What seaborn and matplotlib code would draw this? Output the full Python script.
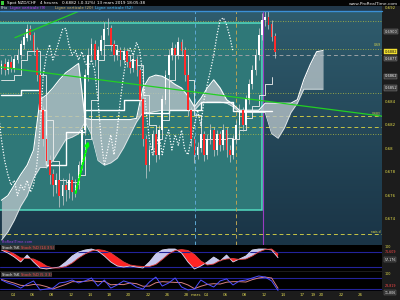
import numpy as np
import pandas as pd
import matplotlib
matplotlib.use("Agg")
import matplotlib.pyplot as plt
import matplotlib.transforms as mtransforms
from matplotlib.colors import LinearSegmentedColormap
from matplotlib.patches import Rectangle
from matplotlib.lines import Line2D
import seaborn as sns

# ---------------- data ----------------
# 8-hour candles; positions in trading days since 4 Feb 2019
closes = [0.6872, 0.6867, 0.6874, 0.6869, 0.6876, 0.6880, 0.6889, 0.6895, 0.6902, 0.6897,
          0.6884, 0.6863, 0.6833, 0.6808, 0.6790, 0.6778, 0.6769, 0.6773, 0.6760, 0.6769,
          0.6765, 0.6773, 0.6763, 0.6769, 0.6786, 0.6816, 0.6863, 0.6880, 0.6889, 0.6876,
          0.6884, 0.6893, 0.6902, 0.6903, 0.6889, 0.6880, 0.6884, 0.6876, 0.6883, 0.6874,
          0.6869, 0.6876, 0.6867, 0.6842, 0.6808, 0.6786, 0.6799, 0.6812, 0.6795, 0.6816,
          0.6842, 0.6863, 0.6880, 0.6886, 0.6880, 0.6891, 0.6884, 0.6863, 0.6833, 0.6808,
          0.6795, 0.6801, 0.6812, 0.6795, 0.6808, 0.6816, 0.6799, 0.6812, 0.6803, 0.6816,
          0.6799, 0.6795, 0.6808, 0.6820, 0.6833, 0.6820, 0.6842, 0.6855, 0.6867, 0.6880,
          0.6897, 0.6910, 0.6912, 0.6906, 0.6896, 0.6883]
opens = [0.6868] + closes[:-1]
highs = [0.6876, 0.6878, 0.6877, 0.6879, 0.6880, 0.6885, 0.6893, 0.6899, 0.6907, 0.6906,
         0.6900, 0.6887, 0.6866, 0.6837, 0.6812, 0.6795, 0.6783, 0.6779, 0.6777, 0.6775,
         0.6774, 0.6779, 0.6777, 0.6774, 0.6790, 0.6820, 0.6868, 0.6886, 0.6895, 0.6893,
         0.6888, 0.6897, 0.6908, 0.6912, 0.6906, 0.6893, 0.6888, 0.6887, 0.6887, 0.6886,
         0.6878, 0.6880, 0.6879, 0.6870, 0.6845, 0.6812, 0.6803, 0.6816, 0.6815, 0.6820,
         0.6846, 0.6867, 0.6885, 0.6891, 0.6890, 0.6896, 0.6894, 0.6887, 0.6866, 0.6836,
         0.6811, 0.6806, 0.6817, 0.6815, 0.6813, 0.6821, 0.6819, 0.6816, 0.6815, 0.6821,
         0.6819, 0.6803, 0.6812, 0.6825, 0.6838, 0.6836, 0.6846, 0.6860, 0.6872, 0.6885,
         0.6903, 0.6916, 0.6919, 0.6920, 0.6910, 0.6899]
lows = [0.6864, 0.6863, 0.6864, 0.6866, 0.6866, 0.6873, 0.6877, 0.6885, 0.6892, 0.6893,
        0.6880, 0.6858, 0.6828, 0.6802, 0.6784, 0.6770, 0.6760, 0.6762, 0.6750, 0.6752,
        0.6755, 0.6758, 0.6756, 0.6759, 0.6766, 0.6782, 0.6812, 0.6858, 0.6875, 0.6871,
        0.6872, 0.6880, 0.6889, 0.6897, 0.6884, 0.6875, 0.6876, 0.6871, 0.6873, 0.6870,
        0.6865, 0.6866, 0.6862, 0.6837, 0.6802, 0.6775, 0.6781, 0.6795, 0.6789, 0.6791,
        0.6812, 0.6838, 0.6859, 0.6876, 0.6876, 0.6877, 0.6879, 0.6858, 0.6828, 0.6802,
        0.6788, 0.6791, 0.6797, 0.6790, 0.6791, 0.6804, 0.6794, 0.6795, 0.6798, 0.6799,
        0.6793, 0.6789, 0.6791, 0.6804, 0.6816, 0.6815, 0.6817, 0.6838, 0.6851, 0.6863,
        0.6876, 0.6893, 0.6905, 0.6902, 0.6892, 0.6878]
candle_day = -1.2 + np.arange(len(closes)) / 3.0
chikou_shift = 13 / 3.0   # 26 four-hour periods

# indicator grid (every 2/3 trading day)
grid_day = -1.2 + np.arange(51) * 2.0 / 3.0
tenkan = [0.6859, 0.6859, 0.6863, 0.6876, 0.6884, 0.6884, 0.6863, 0.6825, 0.6790, 0.6773,
          0.6772, 0.6772, 0.6778, 0.6808, 0.6842, 0.6876, 0.6889, 0.6889, 0.6884, 0.6880,
          0.6876, 0.6872, 0.6846, 0.6820, 0.6808, 0.6825, 0.6859, 0.6880, 0.6880, 0.6859,
          0.6829, 0.6808, 0.6808, 0.6808, 0.6808, 0.6809, 0.6808, 0.6816, 0.6826, 0.6837,
          0.6846, 0.6855, 0.6861]
kijun = [0.6846, 0.6846, 0.6846, 0.6850, 0.6850, 0.6850, 0.6833, 0.6786, 0.6786, 0.6786,
         0.6814, 0.6814, 0.6814, 0.6833, 0.6833, 0.6833, 0.6833, 0.6833, 0.6833, 0.6842,
         0.6842, 0.6842, 0.6831, 0.6831, 0.6831, 0.6831, 0.6833, 0.6833, 0.6833, 0.6833,
         0.6833, 0.6840, 0.6840, 0.6840, 0.6840, 0.6840, 0.6832, 0.6832, 0.6832, 0.6832,
         0.6832, 0.6832, 0.6832]
senkou_a = [0.6756, 0.6760, 0.6769, 0.6778, 0.6786, 0.6799, 0.6842, 0.6846, 0.6852, 0.6859,
            0.6865, 0.6869, 0.6873, 0.6826, 0.6825, 0.6825, 0.6825, 0.6825, 0.6825, 0.6825,
            0.6825, 0.6826, 0.6852, 0.6861, 0.6863, 0.6862, 0.6859, 0.6855, 0.6852, 0.6845,
            0.6836, 0.6843, 0.6852, 0.6859, 0.6852, 0.6842, 0.6838, 0.6833, 0.6833, 0.6833,
            0.6833, 0.6839, 0.6839, 0.6839, 0.6839, 0.6839, 0.6842, 0.6859, 0.6872, 0.6883,
            0.6884]
senkou_b = [0.6722, 0.6729, 0.6739, 0.6751, 0.6760, 0.6775, 0.6784, 0.6784, 0.6790, 0.6799,
            0.6808, 0.6810, 0.6813, 0.6823, 0.6812, 0.6790, 0.6786, 0.6788, 0.6792, 0.6801,
            0.6812, 0.6823, 0.6831, 0.6831, 0.6832, 0.6833, 0.6833, 0.6833, 0.6833, 0.6833,
            0.6833, 0.6839, 0.6840, 0.6840, 0.6840, 0.6839, 0.6836, 0.6831, 0.6831, 0.6831,
            0.6831, 0.6831, 0.6813, 0.6809, 0.6818, 0.6831, 0.6839, 0.6851, 0.6851, 0.6851,
            0.6851]

# stochastics (14,3,5) and (5,3,3)
stoch1_k = [88, 76, 60, 40, 68, 40, 16, 12, 16, 20, 40, 64, 80, 88, 92, 84, 64, 40, 24, 20, 24, 20,
            16, 40, 72, 88, 92, 92, 76, 40, 12, 24, 40, 60, 44, 68, 40, 52, 64, 88, 92, 92, 88, 57.176]
stoch1_d = [90, 84, 72, 56, 54, 52, 40, 24, 16, 16, 22, 36, 56, 72, 84, 90, 86, 76, 58, 40, 28, 24,
            22, 22, 30, 50, 72, 86, 90, 86, 70, 44, 28, 32, 46, 52, 54, 50, 52, 64, 80, 90, 92, 71.609]
stoch2_k = [69, 53, 42, 25, 47, 64, 15, 20, 25, 53, 58, 69, 53, 64, 80, 36, 69, 25, 42, 64, 53, 31,
            20, 58, 85, 36, 53, 80, 31, 15, 20, 69, 47, 31, 64, 75, 42, 64, 69, 80, 91, 85, 64, 11.806]
stoch2_d = [72, 62, 52, 40, 38, 45, 42, 33, 20, 33, 45, 60, 60, 62, 66, 60, 62, 43, 45, 44, 53, 49,
            35, 36, 54, 60, 58, 56, 55, 42, 22, 35, 45, 49, 47, 57, 60, 60, 58, 71, 80, 85, 80, 23.819]
stoch_day = -1.2 + np.arange(len(stoch1_k)) * 2.0 / 3.0

# horizontal levels and vertical markers
dotted_levels = [0.6909, 0.6885, 0.6848, 0.6813]
dashed_levels = [0.6828, 0.6819, 0.6727]
gray_level = 0.6880
vlines = {"52": 18.86, "20": 23.1, "9": 25.9}
box_days = (-2.5, 25.8)
box_prices = (0.67477, 0.69075)
trend1_day, trend1_price = [-1.35, 38.2], [0.6870, 0.6828]
trend2_day, trend2_price = [0.2, 9.0], [0.6895, 0.6925]
arrow_day, arrow_price = [6.42, 7.88], [0.6760, 0.6809]

price_ticks = [0.692, 0.684, 0.682, 0.680, 0.678, 0.676, 0.674]
price_tick_labels = ["0.692", "0.684", "0.682", "0.68", "0.678", "0.676", "0.674"]
marker_prices = [0.6900, 0.6877, 0.6862, 0.6852]
marker_labels = ["0.6900", "0.6877", "0.6862", "0.6852"]
last_price, last_label = 0.6883, "0.6882"

date_day = [0, 2, 4, 6, 8, 10, 12, 14, 16, 18, 19, 20, 22, 24, 26, 28, 30, 31.1, 32, 34, 36]
date_labels = ["04", "06", "08", "12", "14", "18", "20", "22", "26", "28", "mars", "04", "06",
               "08", "12", "14", "17", "19", "20", "22", "26"]

# ---------------- figure ----------------
sns.set_theme(style="dark")
plt.rcParams["font.family"] = ["DejaVu Sans"]

W, H = 400, 300
fig = plt.figure(figsize=(4, 3), dpi=100)
fig.patch.set_facecolor("#1c1c1c")


def axes_px(x0, y0, x1, y1):
    a = fig.add_axes([x0 / W, 1 - y1 / H, (x1 - x0) / W, (y1 - y0) / H])
    for s in a.spines.values():
        s.set_visible(False)
    a.grid(False)
    return a


def ftext(x, y, s, **kw):
    fig.text(x / W, 1 - y / H, s, **kw)


T0, T1 = -1.347, 38.24
YLO, YHI = 0.67178, 0.69178

# header
fig.add_artist(Rectangle((0, 1 - 6 / H), 1, 6 / H, transform=fig.transFigure, fc="#050505", ec="none"))
fig.add_artist(Rectangle((0, 1 - 10.5 / H), 382 / W, 4.5 / H, transform=fig.transFigure, fc="#22384a", ec="none"))
fig.add_artist(Rectangle((1 / W, 1 - 5 / H), 3 / W, 4 / H, transform=fig.transFigure, fc="#3ccf3c", ec="none"))
ftext(7, 3, "Spot NZD/CHF", color="white", fontsize=3, va="center")
ftext(40, 3, "4 heures", color="white", fontsize=3, va="center")
ftext(62, 3, "0.6882 (-0.32%)", color="white", fontsize=3, va="center")
ftext(97, 3, "13 mars 2019 18:05:38", color="white", fontsize=3, va="center")
ftext(398, 4, "www.ProRealTime.com", color="#e6e6e6", fontsize=3.2, va="center", ha="right")
ftext(1, 8.3, "Prix", color="#e0e0e0", fontsize=2.8, va="center")
ftext(10, 8.3, "Ligne verticale (9)", color="#c040ff", fontsize=2.8, va="center")
ftext(55, 8.3, "Ligne verticale (20)", color="#d8b868", fontsize=2.8, va="center")
ftext(95, 8.3, "Ligne verticale (52)", color="#49c3ff", fontsize=2.8, va="center")

# main price panel
ax = axes_px(0, 11, 382, 245)
bg = LinearSegmentedColormap.from_list("bg", ["#2f5c6d", "#1a3446"])
ax.imshow(np.linspace(0, 1, 200).reshape(-1, 1), cmap=bg, aspect="auto",
          extent=(T0, T1, YLO, YHI), origin="upper", zorder=0)
ax.add_patch(Rectangle((box_days[0], box_prices[0]), box_days[1] - box_days[0],
                       box_prices[1] - box_prices[0], facecolor="#2f7878",
                       edgecolor="#52dcc0", lw=1.1, zorder=1))
fig.add_artist(Line2D([0, 382 / W], [1 - 10.5 / H] * 2, color="#3b90d6", lw=1.0))

for lv in dotted_levels:
    ax.axhline(lv, color="#b7c040", lw=0.6, ls=(0, (1, 2)), zorder=2)
for lv in dashed_levels:
    ax.axhline(lv, color="#c6c446", lw=0.7, ls=(0, (4, 3)), zorder=2)
ax.axhline(gray_level, color="#9aa0a6", lw=0.7, ls=(0, (4, 3)), zorder=2)
ax.axvline(vlines["52"], color="#5ea8d2", lw=0.7, ls=(0, (4, 3)), zorder=2)
ax.axvline(vlines["20"], color="#b8a254", lw=0.7, ls=(0, (4, 3)), zorder=2)
ax.axvline(vlines["9"], color="#9a3cc0", lw=0.8, zorder=2)

# Ichimoku cloud
ax.fill_between(grid_day, senkou_a, senkou_b, color="#b9c5ca", alpha=0.78, lw=0, zorder=2)
sns.lineplot(x=grid_day, y=senkou_a, ax=ax, color="white", lw=0.8, zorder=3, estimator=None)
sns.lineplot(x=grid_day, y=senkou_b, ax=ax, color="#e8eef0", lw=0.5, zorder=3, estimator=None)
sns.lineplot(x=grid_day[:len(kijun)], y=kijun, ax=ax, color="white", lw=1.0,
             drawstyle="steps-post", zorder=3, estimator=None)
sns.lineplot(x=grid_day[:len(tenkan)], y=tenkan, ax=ax, color="#f0f0f0", lw=0.6,
             drawstyle="steps-post", zorder=3, estimator=None)
sns.lineplot(x=candle_day - chikou_shift, y=closes, ax=ax, color="white", lw=0.9,
             linestyle=(0, (1, 1.3)), zorder=3, estimator=None)

# trend lines
ax.plot(trend1_day, trend1_price, color="#22d022", lw=0.9, zorder=6)
ax.plot(trend2_day, trend2_price, color="#22d022", lw=0.9, zorder=6)
ax.annotate("", xy=(arrow_day[1], arrow_price[1]), xytext=(arrow_day[0], arrow_price[0]),
            arrowprops=dict(arrowstyle="-|>", color="#00ff00", lw=1.5, ls=(0, (1, 1)),
                            mutation_scale=6), zorder=7)

# candles
o = np.array(opens); c = np.array(closes)
up = c >= o
ax.vlines(candle_day, lows, highs, color="#d0d0d0", lw=0.5, zorder=4)
ax.bar(candle_day, np.abs(c - o) + 0.00004, bottom=np.minimum(o, c), width=0.18,
       color=np.where(up, "#ffffff", "#ff2a2a"), lw=0, zorder=5)

ax.set_xlim(T0, T1)
ax.set_ylim(YLO, YHI)
ax.set_xticks([]); ax.set_yticks([])
ax.set_xlabel(""); ax.set_ylabel("")

tr = mtransforms.blended_transform_factory(ax.transAxes, ax.transData)
for p, lab in zip(price_ticks, price_tick_labels):
    ax.text(1.006, p, lab, transform=tr, color="#e2dc4a", fontsize=2.8, va="center",
            ha="left", clip_on=False)
for p, lab in zip(marker_prices, marker_labels):
    ax.text(1.006, p, lab, transform=tr, color="#f0f0f0", fontsize=2.6, va="center", ha="left",
            clip_on=False, bbox=dict(boxstyle="square,pad=0.15", fc="#3a3a3a", ec="#8a8a8a", lw=0.3))
ax.text(1.006, last_price, last_label, transform=tr, color="#111111", fontsize=2.6, va="center",
        ha="left", clip_on=False, bbox=dict(boxstyle="square,pad=0.15", fc="#f2e030", ec="#f2e030", lw=0.3))
ax.text(0.997, 0.6887, "0.69", transform=tr, color="#e2dc4a", fontsize=2.2, va="bottom", ha="right")
ax.text(0.997, 0.6828, "0.683", transform=tr, color="#e2dc4a", fontsize=2.2, va="bottom", ha="right")
ax.text(0.997, 0.6727, "swis d", transform=tr, color="#e2dc4a", fontsize=2.2, va="bottom", ha="right")
ax.text(0.005, 0.005, "ProRealTime.com", transform=ax.transAxes, color="#a040e0", fontsize=2.6,
        va="bottom", ha="left")

# stochastic panels
def stoch_panel(y0, y1, ylim, k, d, title_k, title_d, style):
    s = axes_px(0, y0, 382, y1)
    s.set_facecolor("black")
    s.set_xlim(T0, T1); s.set_ylim(*ylim)
    s.axhline(80, color="#23239a", lw=0.8); s.axhline(20, color="#23239a", lw=0.8)
    k = np.array(k, float); d = np.array(d, float)
    if style == "ribbon":
        s.fill_between(stoch_day, k, d, where=k >= d, interpolate=True, color="#c6c8ee", lw=0)
        s.fill_between(stoch_day, k, d, where=k < d, interpolate=True, color="#ff2424", lw=0)
        sns.lineplot(x=stoch_day, y=k, ax=s, color="#d8d8f4", lw=0.6, estimator=None)
        sns.lineplot(x=stoch_day, y=d, ax=s, color="#e04040", lw=0.6, estimator=None)
    else:
        sns.lineplot(x=stoch_day, y=d, ax=s, color="#d88080", lw=0.7, estimator=None)
        sns.lineplot(x=stoch_day, y=k, ax=s, color="#5050ff", lw=0.7, estimator=None)
    s.set_xticks([]); s.set_yticks([]); s.set_xlabel(""); s.set_ylabel("")
    s.text(0.005, 0.97, title_k, transform=s.transAxes, color="white", fontsize=2.6, va="top",
           bbox=dict(boxstyle="square,pad=0.15", fc="#333333", ec="none"))
    s.text(0.055, 0.97, title_d, transform=s.transAxes, color="#ff5050", fontsize=2.6, va="top",
           bbox=dict(boxstyle="square,pad=0.15", fc="#333333", ec="none"))
    trs = mtransforms.blended_transform_factory(s.transAxes, s.transData)
    s.text(1.006, 100, "100", transform=trs, color="#e2dc4a", fontsize=2.4, va="center", clip_on=False)
    s.text(1.006, d[-1], f"{d[-1]:.3f}".replace(".", ","), transform=trs, color="#ff4848",
           fontsize=2.3, va="bottom", clip_on=False)
    s.text(1.006, k[-1], f"{k[-1]:.3f}".replace(".", ","), transform=trs, color="white",
           fontsize=2.3, va="top", clip_on=False,
           bbox=dict(boxstyle="square,pad=0.1", fc="#2a2a2a", ec="#777777", lw=0.3))
    return s


s1 = stoch_panel(245, 271, (4, 108), stoch1_k, stoch1_d, "Stoch %K", "Stoch %D (14 3 5)", "ribbon")
s2 = stoch_panel(272, 291, (9.1, 112.7), stoch2_k, stoch2_d, "Stoch %K", "Stoch %D (5 3 3)", "lines")
s2.set_xticks(date_day)
s2.set_xticklabels(date_labels, color="#d8d050", fontsize=3)
s2.tick_params(axis="x", length=0, pad=1.5)

fig.savefig("out.png", dpi=100, facecolor=fig.get_facecolor())
